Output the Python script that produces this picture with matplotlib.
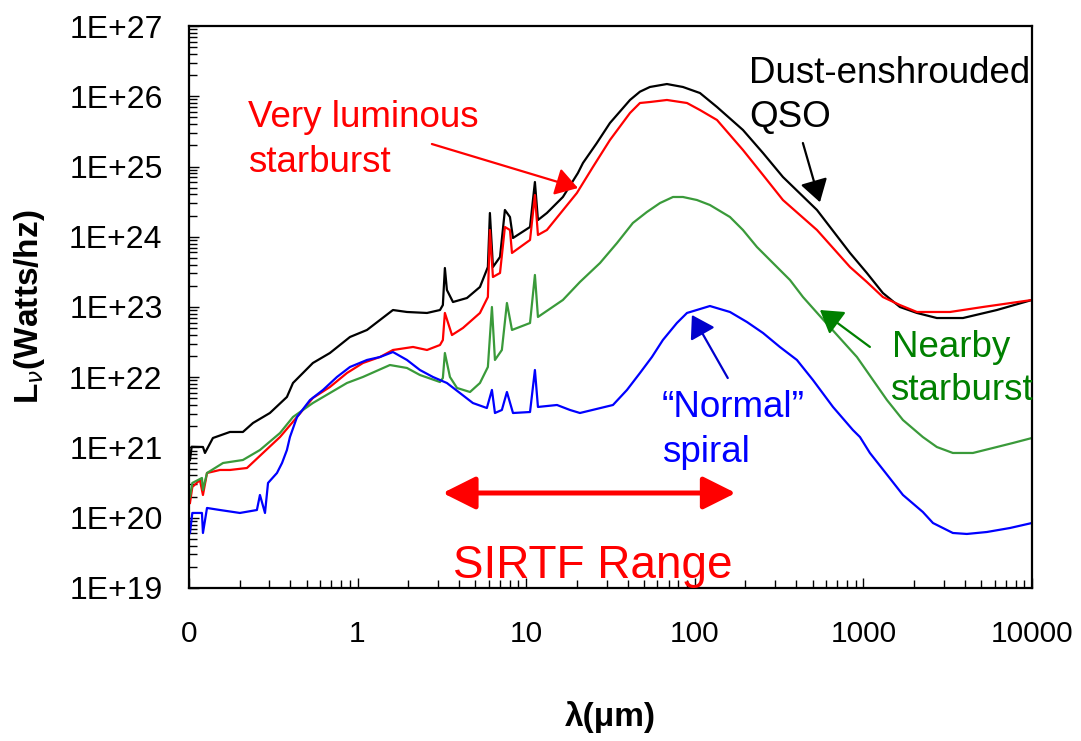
import numpy as np
import matplotlib
matplotlib.use("Agg")
import matplotlib.pyplot as plt
from matplotlib import font_manager
from matplotlib.ticker import LogLocator, NullFormatter

# ---------------------------------------------------------------
# Spectral energy distributions: log10(wavelength / micron) and
# log10(L_nu / W Hz^-1) for four galaxy templates
# ---------------------------------------------------------------
qso_loglam = [-0.994, -0.984, -0.917, -0.905, -0.858, -0.757, -0.68, -0.62, -0.52, -0.419,
              -0.383, -0.265, -0.164, -0.045, 0.056, 0.21, 0.293, 0.412, 0.489, 0.506,
              0.518, 0.53, 0.566, 0.649, 0.726, 0.773, 0.785, 0.803, 0.845, 0.874,
              0.904, 0.922, 1.023, 1.052, 1.07, 1.123, 1.218, 1.307, 1.337, 1.418,
              1.497, 1.616, 1.675, 1.734, 1.835, 1.93, 2.031, 2.132, 2.286, 2.405,
              2.523, 2.725, 2.921, 3.021, 3.116, 3.217, 3.318, 3.436, 3.591, 3.792, 4.0]
qso_logL = [20.822, 21.011, 21.007, 20.922, 21.135, 21.221, 21.221, 21.349, 21.491, 21.719,
            21.918, 22.203, 22.345, 22.573, 22.673, 22.957, 22.929, 22.915, 22.957, 23.028,
            23.555, 23.242, 23.071, 23.128, 23.285, 23.569, 24.338, 23.569, 23.712, 24.381,
            24.281, 23.982, 24.139, 24.779, 24.238, 24.338, 24.566, 24.907, 25.05, 25.33,
            25.619, 25.947, 26.065, 26.132, 26.174, 26.132, 26.046, 25.847, 25.52, 25.192,
            24.851, 24.381, 23.769, 23.484, 23.199, 23.0, 22.915, 22.843, 22.843, 22.957, 23.1]

ulirg_loglam = [-0.994, -0.98, -0.935, -0.917, -0.893, -0.816, -0.757, -0.656, -0.561, -0.46,
                -0.359, -0.265, -0.164, -0.063, 0.032, 0.133, 0.21, 0.329, 0.412, 0.489,
                0.506, 0.518, 0.56, 0.625, 0.726, 0.773, 0.785, 0.803, 0.845, 0.874,
                0.904, 0.916, 1.023, 1.052, 1.07, 1.123, 1.301, 1.396, 1.497, 1.616,
                1.675, 1.734, 1.835, 1.954, 2.031, 2.132, 2.286, 2.405, 2.523, 2.725,
                2.921, 3.021, 3.116, 3.217, 3.318, 3.514, 3.709, 4.0]
ulirg_logL = [20.21, 20.438, 20.537, 20.324, 20.637, 20.68, 20.68, 20.708, 20.922, 21.149,
              21.434, 21.705, 21.861, 22.06, 22.203, 22.288, 22.388, 22.431, 22.388, 22.459,
              22.53, 22.915, 22.601, 22.701, 22.915, 23.142, 24.096, 23.427, 23.484, 24.139,
              24.096, 23.769, 23.954, 24.594, 24.025, 24.096, 24.623, 24.993, 25.377, 25.762,
              25.904, 25.918, 25.947, 25.904, 25.804, 25.662, 25.235, 24.879, 24.523, 24.096,
              23.569, 23.356, 23.142, 23.028, 22.929, 22.929, 23.0, 23.1]

starburst_loglam = [-0.994, -0.98, -0.923, -0.917, -0.893, -0.798, -0.68, -0.579, -0.46, -0.383,
                    -0.324, -0.265, -0.063, 0.032, 0.192, 0.293, 0.37, 0.489, 0.506, 0.518,
                    0.548, 0.59, 0.667, 0.726, 0.773, 0.797, 0.815, 0.856, 0.886, 0.916,
                    1.023, 1.052, 1.07, 1.218, 1.319, 1.438, 1.539, 1.633, 1.716, 1.794,
                    1.871, 1.93, 2.013, 2.09, 2.209, 2.286, 2.369, 2.464, 2.565, 2.642,
                    2.743, 2.962, 3.14, 3.235, 3.353, 3.436, 3.531, 3.65, 3.769, 3.887, 4.0]
starburst_logL = [20.295, 20.495, 20.566, 20.395, 20.637, 20.779, 20.822, 20.964, 21.206, 21.434,
                  21.534, 21.633, 21.918, 22.004, 22.174, 22.132, 22.032, 21.932, 21.989, 22.345,
                  22.004, 21.847, 21.79, 21.918, 22.146, 23.0, 22.246, 22.388, 23.057, 22.673,
                  22.772, 23.456, 22.858, 23.1, 23.356, 23.626, 23.911, 24.196, 24.352, 24.48,
                  24.566, 24.566, 24.523, 24.452, 24.281, 24.096, 23.854, 23.626, 23.384, 23.142,
                  22.87, 22.288, 21.676, 21.391, 21.149, 21.007, 20.922, 20.922, 20.993, 21.064, 21.135]

spiral_loglam = [-0.994, -0.98, -0.923, -0.917, -0.893, -0.816, -0.698, -0.597, -0.579, -0.549,
                 -0.531, -0.478, -0.448, -0.419, -0.401, -0.359, -0.282, -0.205, -0.122, -0.045,
                 0.056, 0.133, 0.21, 0.293, 0.37, 0.447, 0.53, 0.607, 0.684, 0.767,
                 0.797, 0.815, 0.856, 0.886, 0.922, 1.023, 1.052, 1.07, 1.183, 1.26,
                 1.319, 1.515, 1.598, 1.675, 1.746, 1.811, 1.894, 1.954, 2.09, 2.209,
                 2.31, 2.405, 2.505, 2.606, 2.701, 2.82, 2.938, 2.98, 3.039, 3.128,
                 3.235, 3.353, 3.413, 3.531, 3.614, 3.733, 3.87, 4.0]
spiral_logL = [19.783, 20.068, 20.068, 19.783, 20.139, 20.11, 20.068, 20.11, 20.324, 20.068,
               20.495, 20.637, 20.779, 20.964, 21.149, 21.434, 21.676, 21.819, 22.004, 22.146,
               22.246, 22.288, 22.359, 22.246, 22.103, 22.004, 21.918, 21.776, 21.633, 21.562,
               21.819, 21.491, 21.534, 21.79, 21.491, 21.505, 22.103, 21.577, 21.605, 21.534,
               21.491, 21.605, 21.819, 22.06, 22.288, 22.53, 22.772, 22.915, 23.014, 22.929,
               22.786, 22.63, 22.431, 22.246, 21.961, 21.577, 21.249, 21.149, 20.922, 20.651,
               20.324, 20.082, 19.925, 19.783, 19.769, 19.797, 19.854, 19.925]

# Axis ticks and labels
xtick_values = [0.1, 1, 10, 100, 1000, 10000]
xtick_labels = ["0", "1", "10", "100", "1000", "10000"]
ytick_values = [1e19, 1e20, 1e21, 1e22, 1e23, 1e24, 1e25, 1e26, 1e27]
ytick_labels = ["1E+19", "1E+20", "1E+21", "1E+22", "1E+23", "1E+24", "1E+25", "1E+26", "1E+27"]

# SIRTF wavelength coverage (micron)
sirtf_range = [3.2, 175.0]

RED = "#ff0000"
GREEN_LINE = "#3a9a3a"
GREEN_TEXT = "#008000"
BLUE = "#0000ff"
BLUE_ARROW = "#0000cc"

installed = {f.name for f in font_manager.fontManager.ttflist}
SANS = "Liberation Sans"
NARROW = "Liberation Sans Narrow" if "Liberation Sans Narrow" in installed else SANS
XTICK_SIZE = 24 if NARROW != SANS else 21.5

plt.rcParams["font.family"] = [SANS, "DejaVu Sans"]

fig = plt.figure(figsize=(10.81, 7.41), dpi=100)
ax = fig.add_axes([0.1748, 0.2065, 0.7798, 0.7584])

series = [
    (qso_loglam, qso_logL, "black"),
    (ulirg_loglam, ulirg_logL, RED),
    (starburst_loglam, starburst_logL, GREEN_LINE),
    (spiral_loglam, spiral_logL, BLUE),
]
for loglam, logL, color in series:
    ax.plot(10 ** np.asarray(loglam), 10 ** np.asarray(logL), color=color, lw=1.6,
            solid_joinstyle="round")

ax.set_xscale("log")
ax.set_yscale("log")
ax.set_xlim(xtick_values[0], xtick_values[-1])
ax.set_ylim(ytick_values[0], ytick_values[-1])

ax.set_xticks(xtick_values)
ax.set_xticklabels(xtick_labels, fontfamily=NARROW, fontsize=XTICK_SIZE)
ax.set_yticks(ytick_values)
ax.set_yticklabels(ytick_labels, fontfamily=SANS, fontsize=23)
ax.xaxis.set_minor_locator(LogLocator(base=10, subs=np.arange(2, 10), numticks=100))
ax.yaxis.set_minor_locator(LogLocator(base=10, subs=np.arange(2, 10), numticks=100))
ax.xaxis.set_minor_formatter(NullFormatter())
ax.yaxis.set_minor_formatter(NullFormatter())

ax.tick_params(which="both", direction="in", top=False, right=False, color="black")
ax.tick_params(which="major", length=7.5, width=1.0)
ax.tick_params(which="minor", length=5.5, width=1.0)
ax.tick_params(axis="x", pad=23)
ax.tick_params(axis="y", pad=19)

for sp in ax.spines.values():
    sp.set_linewidth(1.6)
    sp.set_color("black")

ax.set_xlabel("λ(μm)", fontsize=24, fontweight="bold")
ax.xaxis.label.set_va("center")
ax.xaxis.set_label_coords(0.5, -0.2295)
ax.set_ylabel(r"L$_{\nu}$(Watts/hz)", fontsize=24, fontweight="bold")
ax.yaxis.label.set_va("center")
ax.yaxis.set_label_coords(-0.1886, 0.5)

# Curve labels
TXT = 26.5
def label(x, y, s, color, size=TXT):
    ax.text(x, y, s, transform=ax.transAxes, color=color, fontsize=size,
            ha="left", va="baseline", fontfamily=SANS)

label(0.070, 0.8203, "Very luminous", RED)
label(0.070, 0.7402, "starburst", RED)
label(0.6643, 0.8986, "Dust-enshrouded", "black")
label(0.6643, 0.8203, "QSO", "black")
label(0.8339, 0.4110, "Nearby", GREEN_TEXT)
label(0.8316, 0.3345, "starburst", GREEN_TEXT)
label(0.5611, 0.3043, "\u201cNormal\u201d", BLUE)
label(0.5611, 0.2242, "spiral", BLUE)
label(0.3132, 0.0178, "SIRTF Range", RED, size=33)

# Pointer arrows (tail -> head, in wavelength / luminosity)
def pointer(tail, head, color):
    ax.annotate("", xy=head, xytext=tail, xycoords="data", textcoords="data",
                arrowprops=dict(arrowstyle="-|>,head_length=0.4,head_width=0.25",
                                mutation_scale=34, lw=1.6, color=color,
                                shrinkA=0, shrinkB=0))

pointer((2.76, 2.09e25), (20.3, 4.94e24), RED)
pointer((438, 2.16e25), (553, 3.1e24), "black")
pointer((1094, 2.7e22), (553, 9.06e22), GREEN_TEXT)
pointer((157, 9.75e21), (96.2, 7.7e22), BLUE_ARROW)

# SIRTF coverage
ax.annotate("", xy=(sirtf_range[1], 2.25e20), xytext=(sirtf_range[0], 2.25e20),
            arrowprops=dict(arrowstyle="<|-|>,head_length=0.4,head_width=0.2",
                            mutation_scale=50, lw=3.6, color=RED,
                            shrinkA=0, shrinkB=0))

fig.savefig("out.png", dpi=100)
